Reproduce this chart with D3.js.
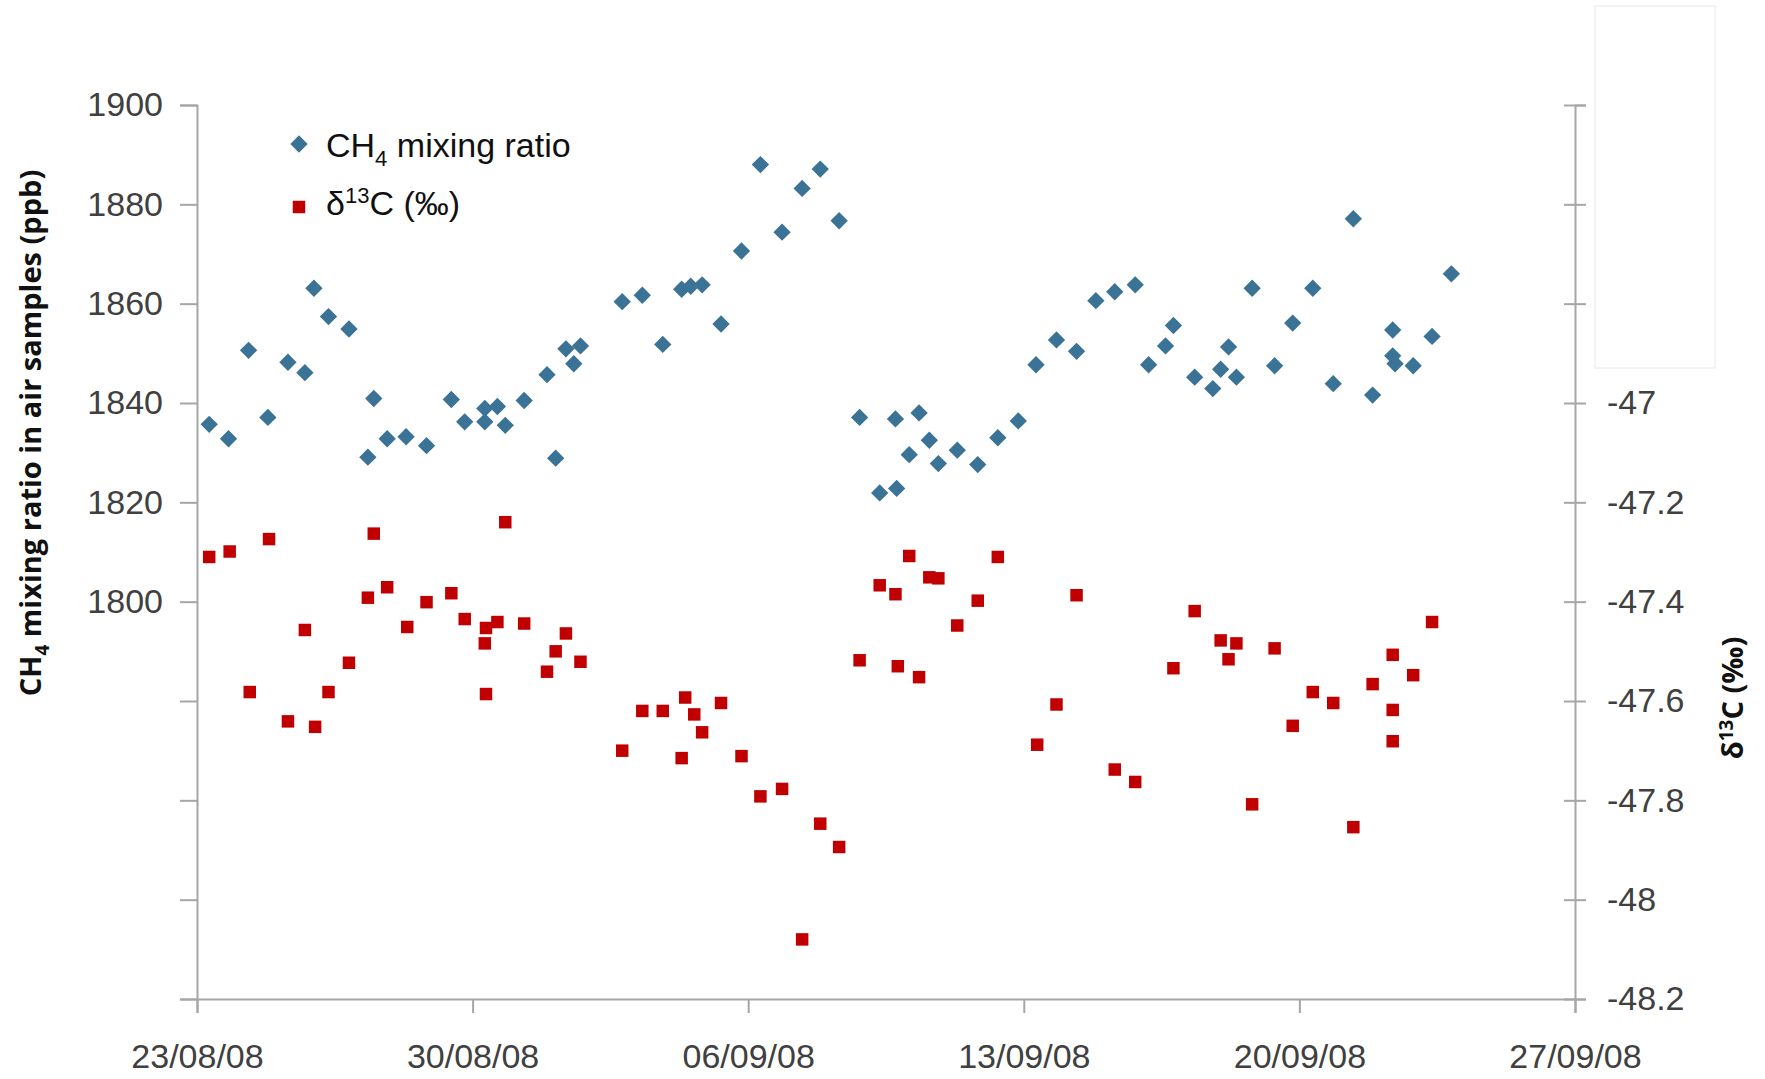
<!DOCTYPE html>
<html lang="en">
<head>
<meta charset="utf-8">
<script src="https://d3js.org/d3.v7.min.js"></script>
<style>
  body { margin: 0; background: #fff; }
  text { font-family: "Open Sans", Arial, sans-serif; }
</style>
</head>
<body>
<div id="chart"></div>
<script>
// days since 23/08/08
var ch4Days = [0.31,0.8,1.31,1.8,2.31,2.74,2.97,3.34,3.86,4.34,4.49,4.83,5.31,5.83,6.46,6.8,7.31,7.31,7.63,7.83,8.31,8.89,9.11,9.37,9.57,9.74,10.8,11.31,11.83,12.31,12.54,12.83,13.31,13.83,14.31,14.86,15.37,15.83,16.31,16.83,17.34,17.77,17.74,18.09,18.34,18.6,18.83,19.31,19.83,20.34,20.86,21.31,21.83,22.34,22.83,23.31,23.83,24.17,24.6,24.8,25.34,25.8,26.0,26.2,26.4,26.8,27.37,27.83,28.34,28.86,29.37,29.86,30.37,30.37,30.43,30.89,31.37,31.86];
var ch4Values = [1835.7,1832.8,1850.6,1837.1,1848.2,1846.1,1863.1,1857.4,1854.9,1829.1,1840.9,1832.8,1833.2,1831.4,1840.7,1836.2,1836.2,1838.9,1839.3,1835.5,1840.5,1845.7,1828.9,1850.9,1847.9,1851.5,1860.4,1861.7,1851.8,1862.9,1863.5,1863.8,1855.9,1870.6,1888.0,1874.4,1883.2,1887.1,1876.7,1837.1,1821.9,1822.8,1836.8,1829.6,1838.0,1832.5,1827.8,1830.5,1827.6,1833.0,1836.4,1847.7,1852.7,1850.4,1860.6,1862.4,1863.8,1847.7,1851.5,1855.6,1845.2,1842.9,1846.8,1851.3,1845.2,1863.1,1847.5,1856.1,1863.1,1843.9,1877.1,1841.6,1854.7,1849.5,1847.9,1847.5,1853.4,1866.0];
var d13Days = [0.31,0.83,1.34,1.83,2.31,2.74,3.0,3.34,3.86,4.34,4.49,4.83,5.34,5.83,6.46,6.8,7.31,7.34,7.34,7.63,7.83,8.31,8.89,9.11,9.37,9.74,10.8,11.31,11.83,12.31,12.4,12.63,12.83,13.31,13.83,14.31,14.86,15.37,15.83,16.31,16.83,17.34,17.74,17.8,18.09,18.34,18.6,18.83,19.31,19.83,20.34,21.34,21.83,22.34,23.31,23.83,24.8,25.34,26.0,26.2,26.4,26.8,27.37,27.83,28.34,28.86,29.37,29.86,30.37,30.37,30.37,30.89,31.37];
var d13Values = [-47.310,-47.299,-47.582,-47.274,-47.641,-47.457,-47.652,-47.582,-47.523,-47.392,-47.263,-47.371,-47.451,-47.401,-47.383,-47.435,-47.484,-47.453,-47.586,-47.441,-47.240,-47.444,-47.541,-47.500,-47.464,-47.521,-47.700,-47.620,-47.620,-47.715,-47.593,-47.627,-47.663,-47.604,-47.711,-47.792,-47.777,-48.080,-47.847,-47.894,-47.518,-47.367,-47.385,-47.530,-47.308,-47.552,-47.351,-47.353,-47.448,-47.398,-47.310,-47.688,-47.607,-47.387,-47.738,-47.763,-47.534,-47.419,-47.478,-47.516,-47.484,-47.808,-47.494,-47.650,-47.582,-47.604,-47.854,-47.566,-47.507,-47.618,-47.681,-47.548,-47.441];
var xTickLabels = ["23/08/08","30/08/08","06/09/08","13/09/08","20/09/08","27/09/08"];
var leftTicks = [1720,1740,1760,1780,1800,1820,1840,1860,1880,1900];
var leftLabelled = [1800,1820,1840,1860,1880,1900];
var rightTicks = [-48.2,-48,-47.8,-47.6,-47.4,-47.2,-47,-46.8,-46.6,-46.4];
var rightLabelled = [-48.2,-48,-47.8,-47.6,-47.4,-47.2,-47];

var W = 1765, H = 1079;
var L = 197, R = 1575, T = 105, B = 999;
var axisCol = "#a6a6a6", textCol = "#404040";
var base = new Date(2008, 7, 23);
function day(d) { return base.getTime() + d * 864e5; }

var svg = d3.select("#chart").append("svg").attr("width", W).attr("height", H);

var x = d3.scaleTime().domain([base, d3.timeDay.offset(base, 35)]).range([L, R]);
var yL = d3.scaleLinear().domain([1720, 1900]).range([B, T]);
var yR = d3.scaleLinear().domain([-48.2, -46.4]).range([B, T]);

// left axis
var gl = svg.append("g").attr("transform", "translate(" + L + ",0)")
  .call(d3.axisLeft(yL).tickValues(leftTicks).tickSize(17)
    .tickFormat(function(v){ return leftLabelled.indexOf(v) >= 0 ? v : ""; }));
// right axis
var gr = svg.append("g").attr("transform", "translate(" + R + ",0)")
  .call(d3.axisRight(yR).tickValues(rightTicks).tickSize(11)
    .tickFormat(function(v){ return rightLabelled.indexOf(v) >= 0 ? String(+v.toFixed(1)) : ""; }));
gr.selectAll(".tick line").attr("x1", -11);
// bottom axis
var xt = d3.range(0, 6).map(function(i){ return d3.timeDay.offset(base, 7 * i); });
var gb = svg.append("g").attr("transform", "translate(0," + B + ")")
  .call(d3.axisBottom(x).tickValues(xt).tickSize(14)
    .tickFormat(function(d, i){ return xTickLabels[i]; }));

[gl, gr, gb].forEach(function(g){
  g.select(".domain").attr("stroke", axisCol).attr("stroke-width", 2);
  g.selectAll(".tick line").attr("stroke", axisCol).attr("stroke-width", 2);
  g.selectAll(".tick text").attr("fill", textCol).style("font-size", "34px")
    .style("font-family", "\"Liberation Sans\", Arial, sans-serif");
});
gl.selectAll(".tick text").attr("x", -34);
gr.selectAll(".tick text").attr("x", 32);
gb.selectAll(".tick text").attr("y", 45);

// white box over top of right axis
svg.append("rect").attr("x", 1595).attr("y", 6).attr("width", 120).attr("height", 362)
  .attr("fill", "#fff").attr("stroke", "#e8e8e8");

var sq = d3.symbol().type(d3.symbolSquare).size(156);
var dm = d3.symbol().type(d3.symbolSquare).size(150);

svg.append("g").selectAll("path").data(d13Days).enter().append("path")
  .attr("d", sq).attr("fill", "#c00000")
  .attr("transform", function(d, i){ return "translate(" + x(day(d)) + "," + yR(d13Values[i]) + ")"; });
svg.append("g").selectAll("path").data(ch4Days).enter().append("path")
  .attr("d", dm).attr("fill", "#3a7396")
  .attr("transform", function(d, i){ return "translate(" + x(day(d)) + "," + yL(ch4Values[i]) + ") rotate(45)"; });

// legend
var legFont = "\"Liberation Sans\", Arial, sans-serif";
svg.append("path").attr("d", dm).attr("fill", "#3a7396").attr("transform", "translate(299,144) rotate(45)");
svg.append("path").attr("d", sq).attr("fill", "#c00000").attr("transform", "translate(299,207)");
var t1 = svg.append("text").attr("x", 326).attr("y", 157).attr("fill", "#111").style("font-size", "34px").style("font-family", legFont);
t1.append("tspan").text("CH");
t1.append("tspan").text("4").style("font-size", "22px").attr("dy", 9);
t1.append("tspan").text(" mixing ratio").attr("dy", -9);
var t2 = svg.append("text").attr("x", 326).attr("y", 215).attr("fill", "#111").style("font-size", "34px").style("font-family", legFont);
t2.append("tspan").text("δ");
t2.append("tspan").text("13").style("font-size", "22px").attr("dy", -12);
t2.append("tspan").text("C (‰)").attr("dy", 12);

// axis titles
var yl = svg.append("text").attr("transform", "translate(41,433) rotate(-90)")
  .attr("text-anchor", "middle").attr("fill", "#111").style("font-size", "29px").style("font-weight", "bold");
yl.append("tspan").text("CH");
yl.append("tspan").text("4").style("font-size", "19px").attr("dy", 8);
yl.append("tspan").text(" mixing ratio in air samples (ppb)").attr("dy", -8);
var yr = svg.append("text").attr("transform", "translate(1743,698) rotate(-90)")
  .attr("text-anchor", "middle").attr("fill", "#111").style("font-size", "29px").style("font-weight", "bold");
yr.append("tspan").text("δ");
yr.append("tspan").text("13").style("font-size", "19px").attr("dy", -10);
yr.append("tspan").text("C (‰)").attr("dy", 10);
</script>
</body>
</html>
